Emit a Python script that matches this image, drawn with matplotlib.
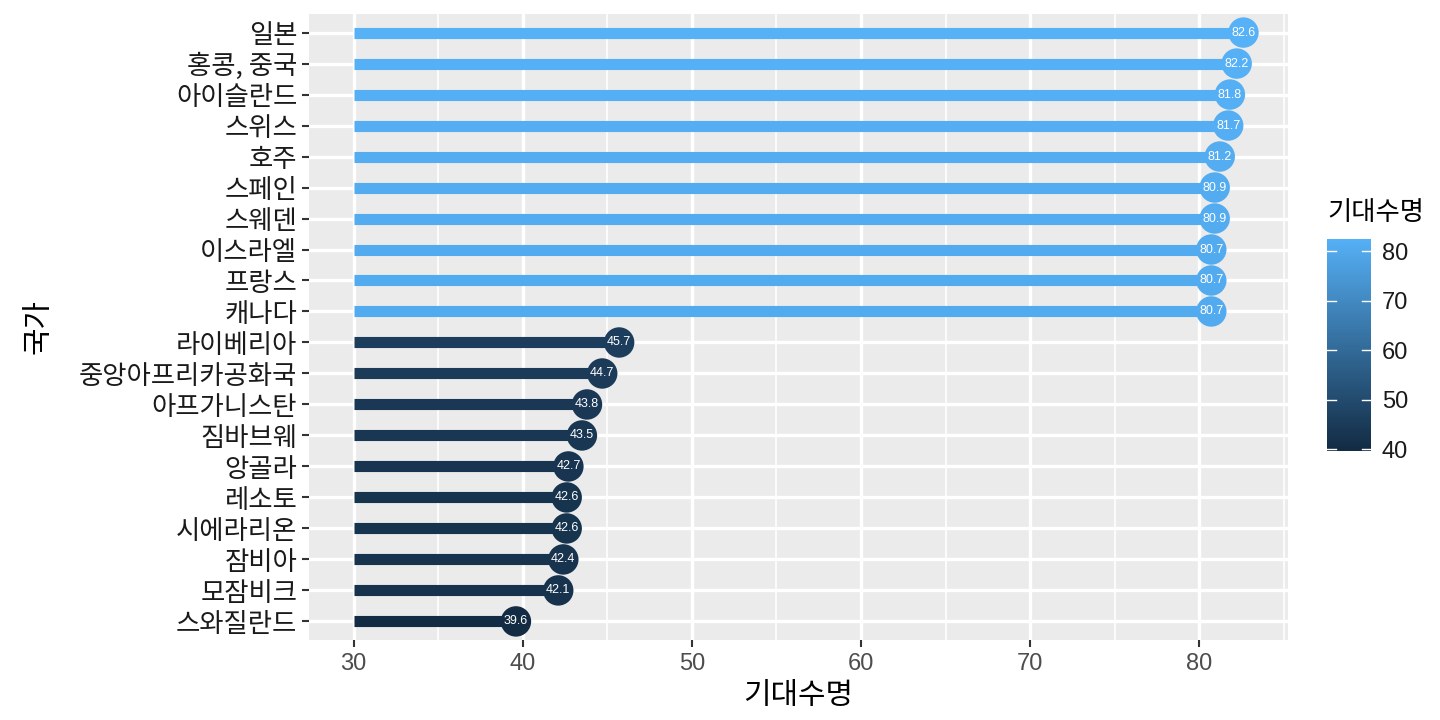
import matplotlib
matplotlib.use("Agg")
import matplotlib.pyplot as plt
from matplotlib.colors import LinearSegmentedColormap, Normalize
from matplotlib.ticker import MultipleLocator
import numpy as np

plt.rcParams['font.family'] = ['Noto Sans CJK KR', 'DejaVu Sans']

# countries top to bottom
countries = ["일본", "홍콩, 중국", "아이슬란드", "스위스", "호주", "스페인", "스웨덴",
             "이스라엘", "프랑스", "캐나다", "라이베리아", "중앙아프리카공화국",
             "아프가니스탄", "짐바브웨", "앙골라", "레소토", "시에라리온", "잠비아",
             "모잠비크", "스와질란드"]
life_exp = [82.6, 82.2, 81.8, 81.7, 81.2, 80.9, 80.9, 80.7, 80.7, 80.7,
            45.7, 44.7, 43.8, 43.5, 42.7, 42.6, 42.6, 42.4, 42.1, 39.6]
base = 30
x_ticks = [30, 40, 50, 60, 70, 80]
cbar_ticks = [40, 50, 60, 70, 80]

cmap = LinearSegmentedColormap.from_list("gg", ["#132B43", "#56B1F7"])
norm = Normalize(vmin=min(life_exp), vmax=max(life_exp))

fig = plt.figure(figsize=(14.4, 7.2), dpi=100)
ax = fig.add_axes([0.2146, 0.1111, 0.6798, 0.8695])
ax.set_facecolor("#EBEBEB")

n = len(countries)
ypos = np.arange(n)[::-1]
colors = [cmap(norm(v)) for v in life_exp]

ax.hlines(ypos, base, life_exp, colors=colors, linewidth=8, zorder=3)
ax.scatter(life_exp, ypos, s=480, c=colors, zorder=4, edgecolors="none")
for v, y in zip(life_exp, ypos):
    ax.text(v, y, f"{v:.1f}", color="white", fontsize=9, ha="center", va="center",
            family=["Liberation Sans", "DejaVu Sans"], zorder=5)

span = max(life_exp) - base
ax.set_xlim(base - 0.05 * span, max(life_exp) + 0.05 * span)
ax.set_ylim(-0.6, n - 0.4)
ax.set_xticks(x_ticks)
ax.xaxis.set_minor_locator(MultipleLocator(5))
ax.set_yticks(ypos)
ax.set_yticklabels(countries)
ax.grid(which="major", color="white", linewidth=2.4, zorder=0)
ax.grid(which="minor", axis="x", color="white", linewidth=1.2, zorder=0)
ax.set_axisbelow(True)
for s in ax.spines.values():
    s.set_visible(False)
ax.tick_params(axis="x", which="major", length=5, width=1.5, color="#333333",
               labelsize=17, labelcolor="#4D4D4D", pad=4)
ax.tick_params(axis="y", which="major", length=5, width=1.5, color="#333333",
               labelsize=19, labelcolor="#1A1A1A", pad=3.5)
ax.tick_params(which="minor", length=0)
for lbl in ax.get_xticklabels():
    lbl.set_family(["Liberation Sans", "DejaVu Sans"])
ax.set_xlabel("기대수명", fontsize=21.5, labelpad=4)
ax.set_ylabel("국가", fontsize=21.5, labelpad=18)

# colour bar legend
cax = fig.add_axes([0.9215, 0.3736, 0.0305, 0.295])
grad = np.linspace(norm.vmin, norm.vmax, 256).reshape(-1, 1)
cax.imshow(grad, aspect="auto", cmap=cmap, norm=norm, origin="lower",
           extent=[0, 1, norm.vmin, norm.vmax])
cax.set_xlim(0, 1)
cax.set_ylim(norm.vmin, norm.vmax)
for t in cbar_ticks:
    cax.plot([0, 0.2], [t, t], color="white", linewidth=1)
    cax.plot([0.8, 1], [t, t], color="white", linewidth=1)
cax.set_xticks([])
cax.yaxis.tick_right()
cax.set_yticks(cbar_ticks)
cax.tick_params(axis="y", length=0, labelsize=17, labelcolor="#1A1A1A", pad=8)
for lbl in cax.get_yticklabels():
    lbl.set_family(["Liberation Sans", "DejaVu Sans"])
for s in cax.spines.values():
    s.set_visible(False)
fig.text(0.9215, 0.705, "기대수명", fontsize=19, ha="left", va="center")

fig.savefig("out.png", dpi=100)
